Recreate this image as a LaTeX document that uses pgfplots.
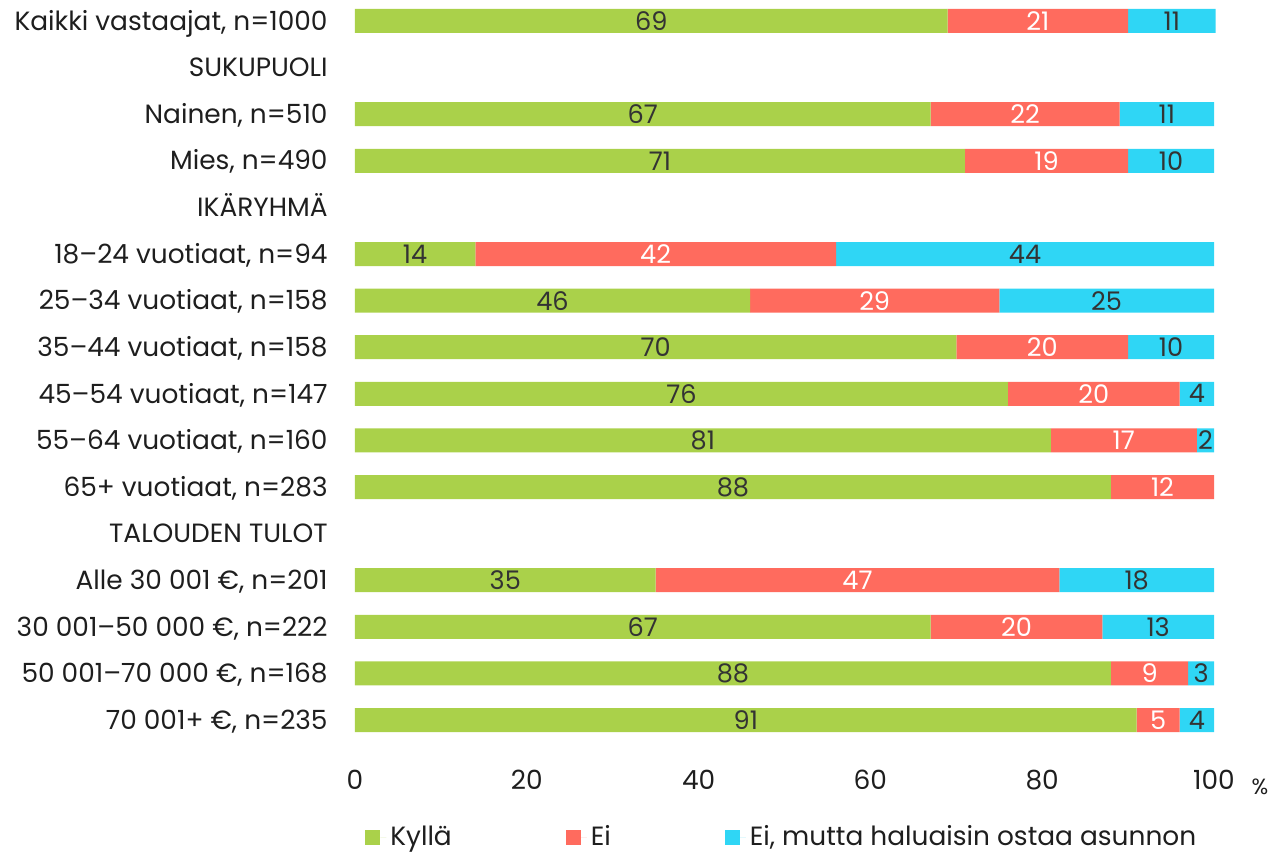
\documentclass[border=0pt]{standalone}
\usepackage{pgfplots}
\pgfplotsset{compat=1.18}
\usepackage{fontspec}
\setmainfont{Poppins}

\definecolor{kylla}{HTML}{AAD14A}
\definecolor{ei}{HTML}{FF6B5E}
\definecolor{eimutta}{HTML}{2FD6F5}
\definecolor{txt}{HTML}{333333}
\definecolor{lbl}{HTML}{1E1E1E}

\begin{document}
\begin{tikzpicture}
\begin{axis}[
    xbar stacked,
    bar width=12pt,
    scale only axis,
    width=429.5pt, height=370.5pt,
    xmin=0, xmax=100,
    ymin=-0.45, ymax=15.45,
    y dir=reverse,
    clip=false,
    axis line style={draw=none},
    major tick length=0pt,
    tick style={draw=none},
    font=\fontsize{13.2}{16}\selectfont,
    /pgf/number format/assume math mode=true,
    xtick={0,20,40,60,80,100},
    x tick label style={inner sep=0pt, anchor=center, yshift=-19.5pt, text=lbl},
    ytick={0,...,15},
    yticklabels={{Kaikki vastaajat, n=1000},SUKUPUOLI,{Nainen, n=510},{Mies, n=490},IKÄRYHMÄ,
        {18–24 vuotiaat, n=94},{25–34 vuotiaat, n=158},{35–44 vuotiaat, n=158},{45–54 vuotiaat, n=147},
        {55–64 vuotiaat, n=160},{65+ vuotiaat, n=283},TALOUDEN TULOT,{Alle 30 001 €, n=201},
        {30 001–50 000 €, n=222},{50 001–70 000 €, n=168},{70 001+ €, n=235}},
    y tick label style={inner sep=0pt, anchor=base east, xshift=-13.5pt, yshift=-4.6pt, text=lbl},
    point meta=explicit symbolic,
    nodes near coords={\ifnum\pgfplotspointmeta>0 \pgfplotspointmeta\fi},
    every node near coord/.append style={anchor=center, inner sep=0pt,
        font=\fontsize{12.8}{15}\selectfont},
    legend columns=3,
    legend style={at={(axis description cs:0.498,-0.1296)}, anchor=center, draw=none,
        font=\fontsize{13.2}{16}\selectfont, text=lbl,
        /tikz/every even column/.append style={column sep=55pt}},
    legend image code/.code={\fill[#1] (0pt,-3.75pt) rectangle (7.5pt,3.75pt);
        \path (7.5pt,0pt) -- (10.5pt,0pt);},
]
\addplot[fill=kylla, draw=none, every node near coord/.append style={text=txt}] coordinates {
    (69,0)[69] (67,2)[67] (71,3)[71] (14,5)[14] (46,6)[46] (70,7)[70] (76,8)[76]
    (81,9)[81] (88,10)[88] (35,12)[35] (67,13)[67] (88,14)[88] (91,15)[91]
};
\addplot[fill=ei, draw=none, every node near coord/.append style={text=white}] coordinates {
    (21,0)[21] (22,2)[22] (19,3)[19] (42,5)[42] (29,6)[29] (20,7)[20] (20,8)[20]
    (17,9)[17] (12,10)[12] (47,12)[47] (20,13)[20] (9,14)[9] (5,15)[5]
};
\addplot[fill=eimutta, draw=none, every node near coord/.append style={text=txt}] coordinates {
    (10.2,0)[11] (11,2)[11] (10,3)[10] (44,5)[44] (25,6)[25] (10,7)[10] (4,8)[4]
    (2,9)[2] (0,10)[0] (18,12)[18] (13,13)[13] (3,14)[3] (4,15)[4]
};
\legend{Kyllä,Ei,{Ei, mutta haluaisin ostaa asunnon}}
\node[text=lbl, font=\fontsize{11}{13}\selectfont] at (axis description cs:1.0536,-0.062) {\%};
\end{axis}
\path ([shift={(-177.5pt,-55pt)}]current axis.south west) rectangle ++(639pt,425.5pt);
\end{tikzpicture}
\end{document}
